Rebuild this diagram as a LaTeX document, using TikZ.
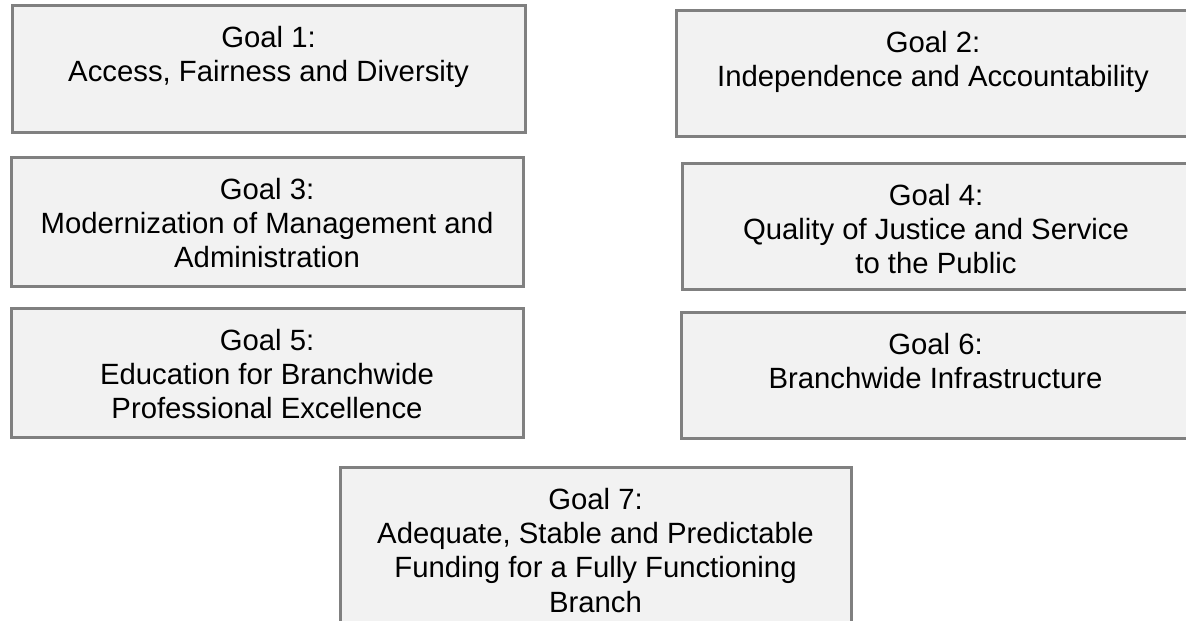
\documentclass[tikz,border=0pt]{standalone}
\usepackage{fontspec}
\setmainfont{Liberation Sans}
\definecolor{boxgray}{HTML}{808080}
\definecolor{boxfill}{HTML}{F2F2F2}
\begin{document}
\begin{tikzpicture}[x=1pt,y=-1pt,
  goalbox/.style={draw=boxgray, line width=3pt, fill=boxfill, inner sep=0pt, outer sep=0pt, anchor=north west},
  goaltext/.style={anchor=north, align=center, inner sep=0pt, text=black,
    font=\fontsize{29.3}{34.2}\selectfont}]
\useasboundingbox (0,0) rectangle (1186,621);
\clip (0,0) rectangle (1186,621);
\node[goalbox, minimum width=513pt, minimum height=127pt] (g1) at (12,5) {};
\node[goalbox, minimum width=514pt, minimum height=126pt] (g2) at (676,10) {};
\node[goalbox, minimum width=512pt, minimum height=129pt] (g3) at (11,157) {};
\node[goalbox, minimum width=508pt, minimum height=126pt] (g4) at (682,163) {};
\node[goalbox, minimum width=512pt, minimum height=129pt] (g5) at (11,308) {};
\node[goalbox, minimum width=509pt, minimum height=126pt] (g6) at (681,312) {};
\node[goalbox, minimum width=511pt, minimum height=170pt] (g7) at (340,467) {};
\node[goaltext] (t1) at ([yshift=-21pt]g1.north) {Goal 1:\\Access, Fairness and Diversity};
\node[goaltext] (t2) at ([yshift=-21pt]g2.north) {Goal 2:\\Independence and Accountability};
\node[goaltext] (t3) at ([yshift=-21pt]g3.north) {Goal 3:\\Modernization of Management and\\Administration};
\node[goaltext] (t4) at ([yshift=-21pt]g4.north) {Goal 4:\\Quality of Justice and Service\\to the Public};
\node[goaltext] (t5) at ([yshift=-21pt]g5.north) {Goal 5:\\Education for Branchwide\\Professional Excellence};
\node[goaltext] (t6) at ([yshift=-21pt]g6.north) {Goal 6:\\Branchwide Infrastructure};
\node[goaltext] (t7) at ([yshift=-21pt]g7.north) {Goal 7:\\Adequate, Stable and Predictable\\Funding for a Fully Functioning\\Branch};
\end{tikzpicture}
\end{document}
